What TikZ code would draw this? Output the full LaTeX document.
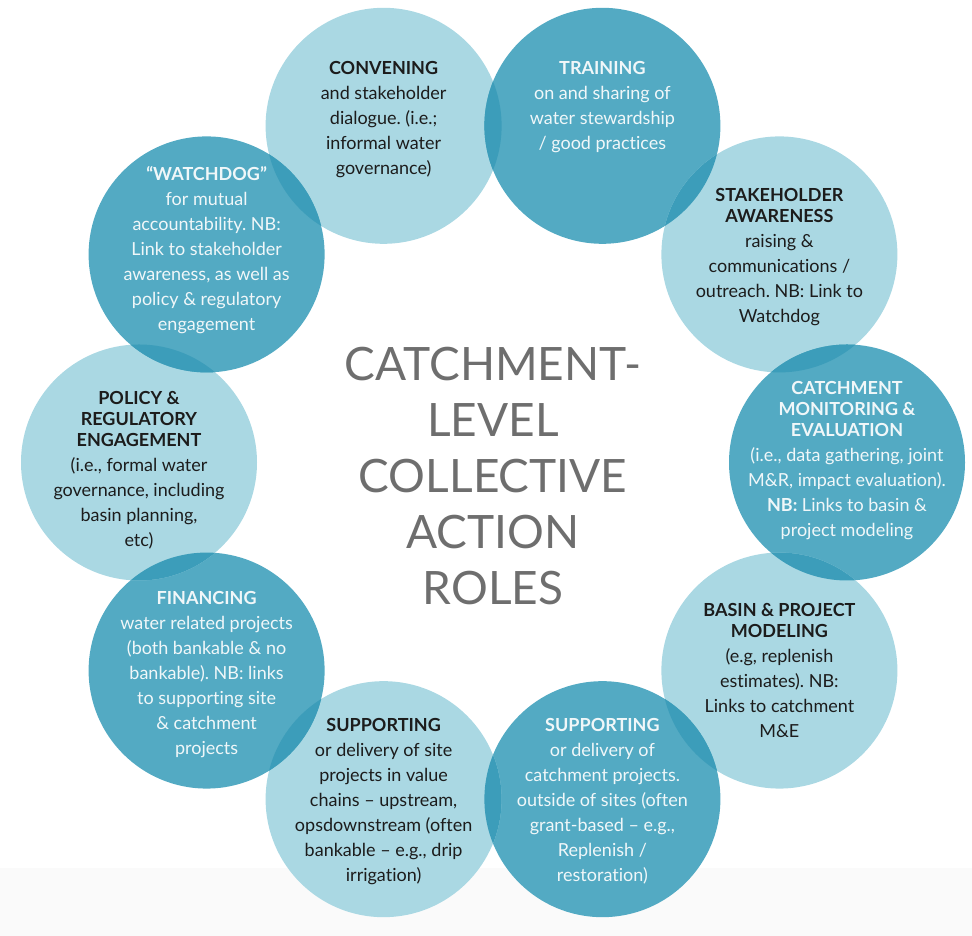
\documentclass[tikz,border=0pt]{standalone}
\usepackage{fontspec}
\setmainfont{Lato}[Ligatures={NoCommon}]
\frenchspacing
\definecolor{lightc}{HTML}{AAD8E3}
\definecolor{darkc}{HTML}{53AAC3}
\definecolor{overc}{HTML}{3C9DBA}
\definecolor{darktxt}{HTML}{1C1C1C}
\definecolor{lighttxt}{HTML}{F0F7F9}
\definecolor{titlec}{HTML}{6E6E6E}
\definecolor{stripc}{HTML}{FAFAFA}
\begin{document}
\begin{tikzpicture}[x=1pt,y=1pt,
  bubble/.style={circle, minimum size=236pt, inner sep=0pt, draw=none},
  lightbub/.style={bubble, fill=lightc},
  darkbub/.style={bubble, fill=darkc},
  roletext/.style={align=center, inner sep=0pt, anchor=north, font=\fontsize{18}{25}\selectfont},
  ontext/.style={roletext, text=darktxt},
  offtext/.style={roletext, text=lighttxt},
  titletext/.style={align=center, inner sep=0pt, anchor=north, text=titlec, font=\fontsize{46}{56}\selectfont}]
\useasboundingbox (0,0) rectangle (972,936);
\fill[stripc] (0,0) rectangle (972,68);
\begin{scope}[shift={(493,473.5)}]
  \node[lightbub] (conv)  at (108:354pt) {};
  \node[darkbub]  (train) at (72:354pt)  {};
  \node[lightbub] (stake) at (36:354pt)  {};
  \node[darkbub]  (catch) at (0:354pt)   {};
  \node[lightbub] (basin) at (-36:354pt) {};
  \node[darkbub]  (suppr) at (-72:354pt) {};
  \node[lightbub] (suppl) at (-108:354pt) {};
  \node[darkbub]  (fin)   at (-144:354pt) {};
  \node[lightbub] (policy) at (180:354pt) {};
  \node[darkbub]  (watch) at (144:354pt) {};
\end{scope}
\foreach \a/\b in {conv/train, train/stake, stake/catch, catch/basin, basin/suppr,
                   suppr/suppl, suppl/fin, fin/policy, policy/watch, watch/conv} {
  \begin{scope}
    \clip (\a.center) circle[radius=118pt];
    \fill[overc] (\b.center) circle[radius=118pt];
  \end{scope}
}
\node[ontext] (convt) at ([yshift=65pt]conv.center)
  {\textbf{CONVENING}\\and stakeholder\\dialogue. (i.e.;\\informal water\\governance)};
\node[offtext] (traint) at ([yshift=65pt]train.center)
  {\textbf{TRAINING}\\on and sharing of\\water stewardship\\/ good practices};
\node[ontext] (staket) at ([yshift=66pt]stake.center)
  {\textbf{STAKEHOLDER}\\[-4pt]\textbf{AWARENESS}\\raising \&\\communications /\\outreach. NB: Link to\\Watchdog};
\node[offtext] (catcht) at ([yshift=81pt]catch.center)
  {\textbf{CATCHMENT}\\[-4pt]\textbf{MONITORING \&}\\[-4pt]\textbf{EVALUATION}\\(i.e., data gathering, joint\\M\&R, impact evaluation).\\\textbf{NB:} Links to basin \&\\project modeling};
\node[ontext] (basint) at ([yshift=67pt]basin.center)
  {\textbf{BASIN \& PROJECT}\\[-4pt]\textbf{MODELING}\\(e.g, replenish\\estimates). NB:\\Links to catchment\\M\&E};
\node[offtext] (supprt) at ([yshift=81pt]suppr.center)
  {\textbf{SUPPORTING}\\or delivery of\\catchment projects.\\outside of sites (often\\grant-based – e.g.,\\Replenish /\\restoration)};
\node[ontext] (supplt) at ([yshift=81pt]suppl.center)
  {\textbf{SUPPORTING}\\or delivery of site\\projects in value\\chains – upstream,\\opsdownstream (often\\bankable – e.g., drip\\irrigation)};
\node[offtext] (fint) at ([yshift=79pt]fin.center)
  {\textbf{FINANCING}\\water related projects\\(both bankable \& no\\bankable). NB: links\\to supporting site\\\& catchment\\projects};
\node[ontext] (policyt) at ([yshift=71pt]policy.center)
  {\textbf{POLICY \&}\\[-4pt]\textbf{REGULATORY}\\[-4pt]\textbf{ENGAGEMENT}\\(i.e., formal water\\governance, including\\basin planning,\\etc)};
\node[offtext] (watcht) at ([yshift=88pt]watch.center)
  {\textbf{“WATCHDOG”}\\for mutual\\accountability. NB:\\Link to stakeholder\\awareness, as well as\\policy \& regulatory\\engagement};
\node[titletext] (title) at (493,589) {CATCHMENT-\\LEVEL\\COLLECTIVE\\ACTION\\ROLES};
\end{tikzpicture}
\end{document}
